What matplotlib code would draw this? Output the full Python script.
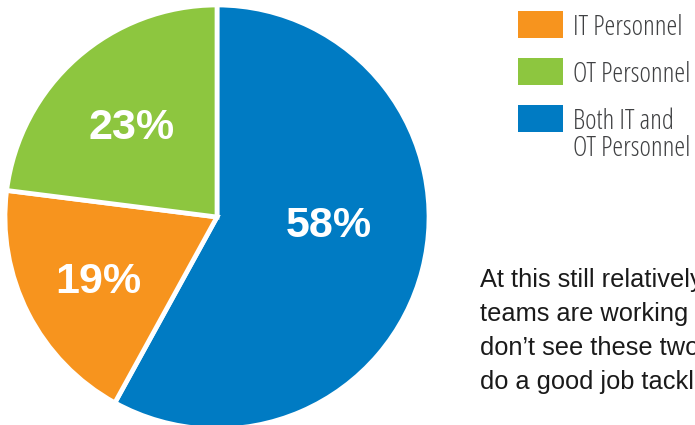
#!/usr/bin/env python3
"""Pie chart: who handles IT/OT security work, with legend and side note."""

import numpy as np
import matplotlib
matplotlib.use("Agg")
import matplotlib.pyplot as plt
from matplotlib.patches import Rectangle

# ---- data ---------------------------------------------------------------
slice_names = ["Both IT and\nOT Personnel", "IT Personnel", "OT Personnel"]
slice_pct = [58, 19, 23]
slice_colors = ["#007BC3", "#F7941E", "#8DC63F"]

legend_order = ["IT Personnel", "OT Personnel", "Both IT and\nOT Personnel"]

note_lines = [
    "At this still relatively",
    "teams are working",
    "don\u2019t see these two",
    "do a good job tackling",
]

# label placement inside each wedge: fraction of radius, angular nudge (deg)
label_radius = [0.53, 0.63, 0.60]
label_nudge = [12.0, 0.0, 1.0]

W, H = 695, 425
fig = plt.figure(figsize=(W / 100, H / 100), dpi=100)


def fx(px):
    return px / W


def fy(py):
    return 1 - py / H


# pie axes: centre (217, 217) px, radius ~212 px (white rim eats a little)
cx, cy, r = 217, 217, 212
ax = fig.add_axes([fx(cx - r), fy(cy + r), 2 * r / W, 2 * r / H])
wedges, _ = ax.pie(slice_pct, colors=slice_colors, startangle=90,
                   counterclock=False, radius=1.0,
                   wedgeprops=dict(edgecolor="white", linewidth=3.4))
ax.set_xlim(-1, 1)
ax.set_ylim(-1, 1)
ax.set_aspect("equal")
ax.axis("off")

for w, pct, rr, nudge in zip(wedges, slice_pct, label_radius, label_nudge):
    ang = np.deg2rad((w.theta1 + w.theta2) / 2 + nudge)
    x, y = rr * np.cos(ang), rr * np.sin(ang)
    ax.text(x, y - 0.074, f"{pct}%", ha="center", va="baseline",
            color="white", fontsize=31, fontweight="bold",
            family=["Liberation Sans", "DejaVu Sans"])

# legend, drawn by hand so the two-line entry hangs below its swatch
color_of = dict(zip(slice_names, slice_colors))
for i, name in enumerate(legend_order):
    top = 11 + 47 * i
    fig.add_artist(Rectangle((fx(518), fy(top + 27)), 45 / W, 27 / H,
                             transform=fig.transFigure,
                             facecolor=color_of[name], edgecolor="none"))
    for j, line in enumerate(name.split("\n")):
        fig.text(fx(573), fy(top + 24 + 27 * j), line, ha="left",
                 va="baseline", fontsize=19.8, color="#404143",
                 family=["Open Sans", "DejaVu Sans"],
                 fontstretch="condensed", fontweight=300)

# side note, running off the right edge
for k, line in enumerate(note_lines):
    fig.text(fx(480), fy(287 + 34 * k), line, ha="left", va="baseline",
             fontsize=18.3, color="#1A1A1A",
             family=["Liberation Sans", "DejaVu Sans"])

fig.savefig("out.png", dpi=100)
